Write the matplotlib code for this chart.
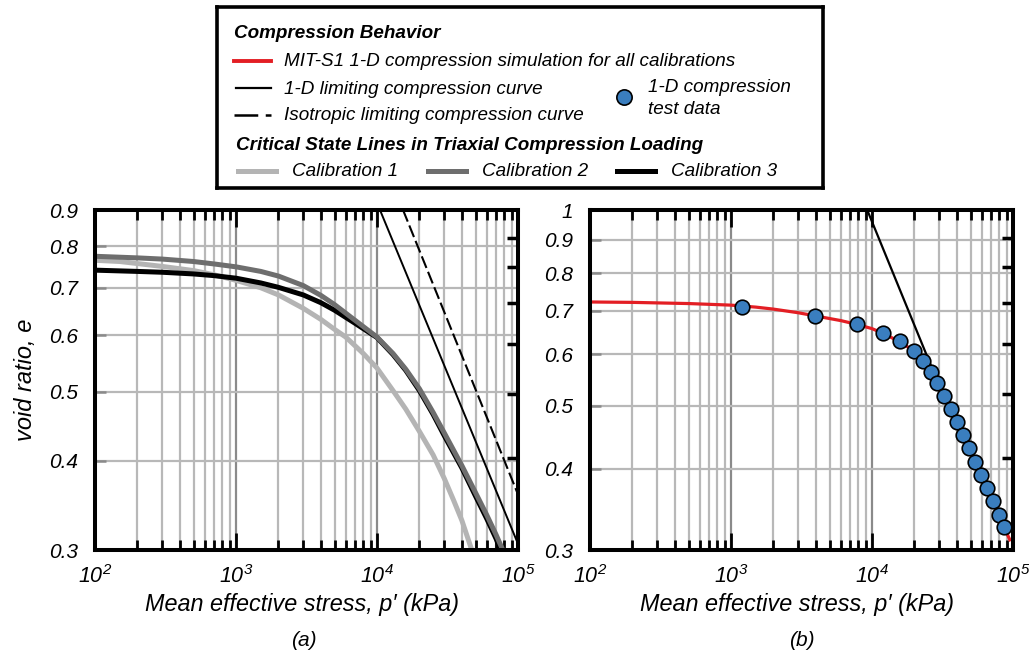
import numpy as np
import matplotlib
matplotlib.use("Agg")
import matplotlib.pyplot as plt
from matplotlib.lines import Line2D

plt.rcParams['font.family'] = ['Liberation Sans', 'DejaVu Sans']
plt.rcParams['font.style'] = 'italic'
plt.rcParams['mathtext.fontset'] = 'custom'
plt.rcParams['mathtext.it'] = 'Liberation Sans:italic'
plt.rcParams['mathtext.rm'] = 'Liberation Sans:italic'
plt.rcParams['mathtext.default'] = 'it'

# ---- data ----
# (a) critical state lines, triaxial compression
cal1_p = [100, 150, 200, 300, 500, 700, 1000, 1500, 2000, 3000, 4000, 5000, 6000, 8000,
          10000, 13000, 16000, 20000, 25000, 30000, 35000, 40000, 47000]
cal1_e = [0.765, 0.762, 0.757, 0.750, 0.740, 0.730, 0.717, 0.700, 0.684, 0.655, 0.632,
          0.612, 0.597, 0.566, 0.540, 0.502, 0.473, 0.440, 0.408, 0.378, 0.352, 0.330, 0.300]

cal2_p = [100, 200, 300, 500, 700, 1000, 1500, 2000, 3000, 4000, 5000, 7000, 10000,
          13000, 16000, 20000, 25000, 30000, 40000, 50000, 60000, 70000, 78000]
cal2_e = [0.775, 0.771, 0.768, 0.762, 0.756, 0.749, 0.738, 0.727, 0.705, 0.683, 0.663,
          0.630, 0.597, 0.566, 0.538, 0.505, 0.468, 0.438, 0.394, 0.361, 0.336, 0.315, 0.300]

cal3_p = [100, 200, 300, 500, 700, 1000, 1500, 2000, 3000, 4000, 5000, 7000, 10000,
          13000, 16000, 20000, 25000, 30000, 40000, 50000, 60000, 70000, 75000]
cal3_e = [0.741, 0.738, 0.736, 0.732, 0.728, 0.722, 0.711, 0.701, 0.684, 0.667, 0.651,
          0.624, 0.596, 0.564, 0.536, 0.502, 0.465, 0.434, 0.391, 0.357, 0.332, 0.311, 0.300]

# limiting compression curves (straight lines in log-log), end points
lcc1d_a_p = [10500, 98000]
lcc1d_a_e = [0.90, 0.309]
lcciso_a_p = [15300, 100000]
lcciso_a_e = [0.90, 0.359]

# (b) MIT-S1 1-D compression simulation and test data
sim_p = [100, 200, 500, 1000, 1500, 2000, 3000, 4000, 6000, 7800, 10000, 12000, 16000,
         20000, 26000, 33000, 40000, 50000, 60000, 72000, 86500, 95000]
sim_e = [0.722, 0.721, 0.718, 0.714, 0.709, 0.704, 0.695, 0.687, 0.676, 0.667, 0.657,
         0.646, 0.626, 0.606, 0.563, 0.515, 0.471, 0.424, 0.391, 0.357, 0.325, 0.311]

test_p = [1203, 3953, 7800, 11940, 15850, 19780, 23060, 26290, 29130, 32660,
          36410, 39900, 44300, 48860, 53560, 59430, 65500, 71800, 79200, 86500]
test_e = [0.709, 0.688, 0.669, 0.648, 0.628, 0.608, 0.585, 0.563, 0.541, 0.517,
          0.494, 0.472, 0.451, 0.430, 0.410, 0.391, 0.373, 0.357, 0.340, 0.325]

lcc1d_b_p = [9250, 29000]
lcc1d_b_e = [1.0, 0.546]

xticks = [1e2, 1e3, 1e4, 1e5]
xticklabels = [r'$10^{2}$', r'$10^{3}$', r'$10^{4}$', r'$10^{5}$']
yticks_a = [0.3, 0.4, 0.5, 0.6, 0.7, 0.8, 0.9]
yticklabels_a = ['0.3', '0.4', '0.5', '0.6', '0.7', '0.8', '0.9']
yticks_b = [0.3, 0.4, 0.5, 0.6, 0.7, 0.8, 0.9, 1.0]
yticklabels_b = ['0.3', '0.4', '0.5', '0.6', '0.7', '0.8', '0.9', '1']

C1, C2, C3 = '#b4b4b4', '#6e6e6e', '#000000'
RED = '#e31e24'
BLUE = '#3a7ebf'
GRID = '#b8b8b8'

W, H = 1029, 655
fig = plt.figure(figsize=(W / 100, H / 100), dpi=100)


def px_axes(x0, y0, x1, y1):
    return fig.add_axes([x0 / W, 1 - y1 / H, (x1 - x0) / W, (y1 - y0) / H])


def style_axes(ax, ylim, yticks, ylabels):
    ax.set_xscale('log')
    ax.set_yscale('log')
    ax.set_xlim(1e2, 1e5)
    ax.set_ylim(*ylim)
    ax.set_xticks(xticks)
    ax.set_xticklabels(xticklabels, fontsize=15.5)
    ax.set_yticks(yticks)
    ax.set_yticklabels(ylabels, fontsize=15)
    ax.yaxis.set_minor_locator(matplotlib.ticker.NullLocator())
    ax.xaxis.set_minor_locator(matplotlib.ticker.LogLocator(base=10, subs=np.arange(2, 10)))
    ax.xaxis.set_minor_formatter(matplotlib.ticker.NullFormatter())
    ax.grid(which='minor', axis='x', color=GRID, lw=1.6, zorder=0)
    ax.grid(which='major', axis='x', color='#8a8a8a', lw=1.6, zorder=0)
    ax.grid(which='major', axis='y', color=GRID, lw=1.6, zorder=0)
    ax.set_axisbelow(True)
    ax.tick_params(axis='x', which='major', direction='in', length=12, width=2,
                   top=True, color='black', pad=11)
    ax.tick_params(axis='x', which='minor', direction='in', length=7, width=2, top=True,
                   color='black')
    ax.tick_params(axis='y', which='major', direction='in', length=8, width=1.8,
                   right=False, color='#8a8a8a', pad=12)
    for t in ax.xaxis.get_major_ticks() + ax.xaxis.get_minor_ticks():
        t.tick1line.set_color('#8a8a8a')
    for s in ax.spines.values():
        s.set_linewidth(2.9)
        s.set_zorder(5)
    ax.set_xlabel("Mean effective stress, p\u2032 (kPa)", fontsize=16.8)
    ax.xaxis.set_label_coords(0.49, -0.125)
    # right-hand decorative ticks
    tw = ax.twinx()
    tw.set_ylim(0, 1)
    tw.set_yticks([0.918, 0.831, 0.727, 0.605, 0.459, 0.27])
    tw.tick_params(axis='y', direction='in', length=8, width=2.5, labelright=False,
                   color='black')
    for s in tw.spines.values():
        s.set_visible(False)
    return tw


# ---- panel (a) ----
axa = px_axes(95, 210, 518, 550)
style_axes(axa, (0.3, 0.9), yticks_a, yticklabels_a)
axa.plot(cal1_p, cal1_e, color=C1, lw=3.6, solid_capstyle='butt', zorder=3)
axa.plot(cal3_p, cal3_e, color=C3, lw=3.6, solid_capstyle='butt', zorder=3)
axa.plot(cal2_p, cal2_e, color=C2, lw=3.6, solid_capstyle='butt', zorder=3)
axa.plot(lcc1d_a_p, lcc1d_a_e, color='black', lw=1.4, zorder=3)
axa.plot(lcciso_a_p, lcciso_a_e, color='black', lw=1.5, dashes=(6, 2), zorder=3)
axa.set_ylabel("void ratio, e", fontsize=17)
axa.yaxis.set_label_coords(-0.138, 0.5)
fig.text(304 / W, 1 - 640 / H, "(a)", fontsize=15, ha='center', va='center')

# ---- panel (b) ----
axb = px_axes(590, 210, 1013, 550)
style_axes(axb, (0.3, 1.0), yticks_b, yticklabels_b)
axb.plot(lcc1d_b_p, lcc1d_b_e, color='black', lw=1.6, zorder=2)
axb.plot(sim_p, sim_e, color=RED, lw=2.3, zorder=3)
axb.plot(test_p, test_e, 'o', ms=10.5, mfc=BLUE, mec='black', mew=1.2, zorder=4,
         clip_on=False)
fig.text(802 / W, 1 - 640 / H, "(b)", fontsize=15, ha='center', va='center')

# ---- legend box ----
lg = px_axes(217, 7, 823, 188)
lg.set_xlim(217, 823)
lg.set_ylim(188, 7)
lg.set_xticks([])
lg.set_yticks([])
for s in lg.spines.values():
    s.set_linewidth(2.6)

fs = 13.6
lg.text(234, 34, "Compression Behavior", fontsize=fs, weight='bold', va='center')
lg.add_line(Line2D([234, 271], [61, 61], color=RED, lw=2.8))
lg.text(284, 62, "MIT-S1 1-D compression simulation for all calibrations", fontsize=fs,
        va='center')
lg.add_line(Line2D([236, 271], [88, 88], color='black', lw=1.6))
lg.text(284, 89, "1-D limiting compression curve", fontsize=fs, va='center')
lg.add_line(Line2D([234, 271], [115, 115], color='black', lw=1.8, dashes=(9.5, 3)))
lg.text(284, 116, "Isotropic limiting compression curve", fontsize=fs, va='center')
lg.plot([624], [97], 'o', ms=11, mfc=BLUE, mec='black', mew=1.2)
lg.text(648, 88, "1-D compression", fontsize=fs, va='center')
lg.text(648, 109, "test data", fontsize=fs, va='center')
lg.text(236, 146, "Critical State Lines in Triaxial Compression Loading", fontsize=fs,
        weight='bold', va='center')
for x0, col, lab in [(238, C1, "Calibration 1"), (428, C2, "Calibration 2"),
                     (617, C3, "Calibration 3")]:
    lg.add_line(Line2D([x0, x0 + 38], [171, 171], color=col, lw=3.6))
    lg.text(x0 + 54, 172, lab, fontsize=fs, va='center')

fig.savefig("out.png", dpi=100)
